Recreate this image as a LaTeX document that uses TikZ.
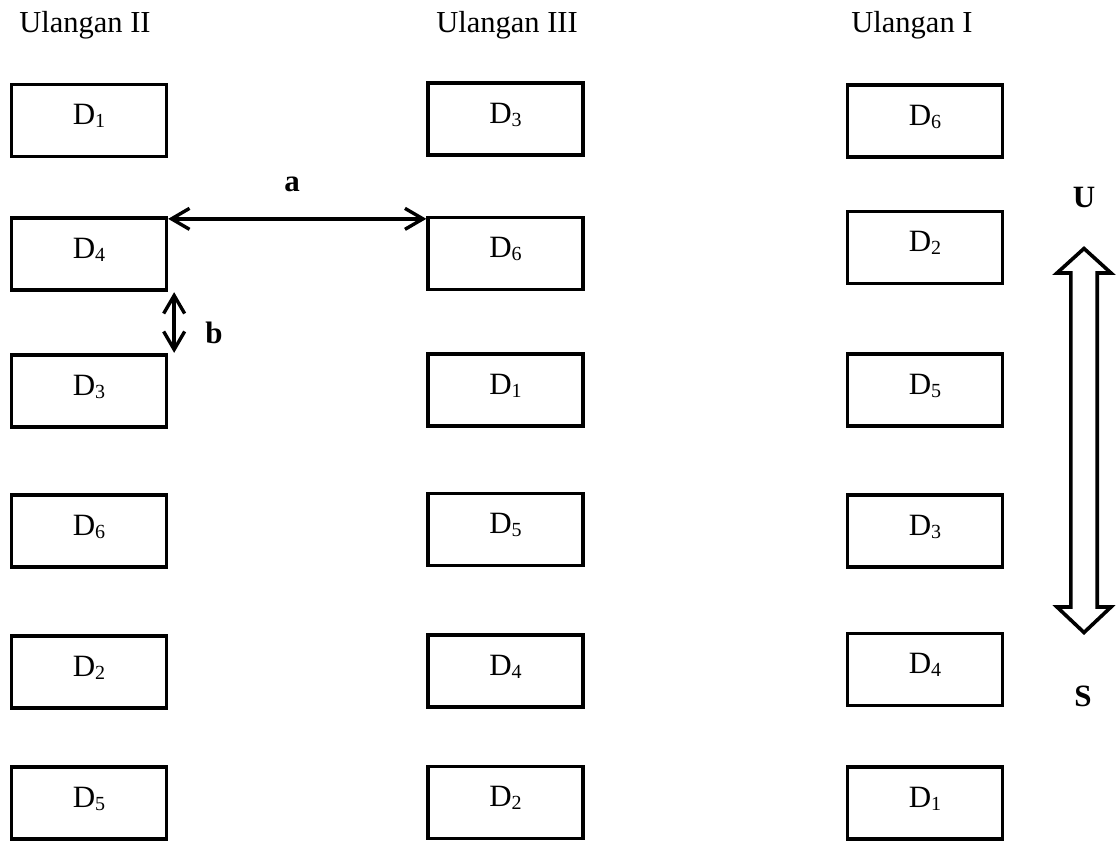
\documentclass[tikz,border=0pt]{standalone}
\usepackage{fontspec}
\setmainfont{Liberation Serif}
\usetikzlibrary{arrows.meta,calc}
\newcommand{\Dlab}[1]{D\raisebox{-3pt}{\fontsize{20}{20}\selectfont #1}}
\tikzset{
  plotbox/.style={draw, line width=3.3pt, minimum width=155pt, minimum height=72pt,
    inner sep=0pt, text height=20pt, text depth=12pt, font=\fontsize{31}{36}\selectfont},
  headtext/.style={anchor=base, inner sep=0pt, font=\fontsize{30.5}{36}\selectfont},
  labtext/.style={anchor=base, inner sep=0pt, font=\fontsize{31}{36}\selectfont\bfseries},
  dimarrow/.style={line width=3.4pt,
    {Straight Barb[length=18pt,width=21pt]}-{Straight Barb[length=18pt,width=21pt]}},
  bigarrow/.style={line width=3.6pt, miter limit=10}
}
\begin{document}
\begin{tikzpicture}[x=1pt,y=-1pt]
\useasboundingbox (0,0) rectangle (1117,841);
% headers
\node[headtext] (h1) at (85,32) {Ulangan II};
\node[headtext] (h2) at (507,32) {Ulangan III};
\node[headtext] (h3) at (912,32) {Ulangan I};
% column 1 (Ulangan II)
\node[plotbox] (c1r1) at (89,120.5) {\Dlab{1}};
\node[plotbox] (c1r2) at (89,254) {\Dlab{4}};
\node[plotbox] (c1r3) at (89,391) {\Dlab{3}};
\node[plotbox] (c1r4) at (89,531) {\Dlab{6}};
\node[plotbox] (c1r5) at (89,672) {\Dlab{2}};
\node[plotbox] (c1r6) at (89,803) {\Dlab{5}};
% column 2 (Ulangan III)
\node[plotbox] (c2r1) at (505.5,119) {\Dlab{3}};
\node[plotbox] (c2r2) at (505.5,253.5) {\Dlab{6}};
\node[plotbox] (c2r3) at (505.5,390) {\Dlab{1}};
\node[plotbox] (c2r4) at (505.5,529.5) {\Dlab{5}};
\node[plotbox] (c2r5) at (505.5,671) {\Dlab{4}};
\node[plotbox] (c2r6) at (505.5,802.5) {\Dlab{2}};
% column 3 (Ulangan I)
\node[plotbox] (c3r1) at (925,121) {\Dlab{6}};
\node[plotbox] (c3r2) at (925,247.5) {\Dlab{2}};
\node[plotbox] (c3r3) at (925,390) {\Dlab{5}};
\node[plotbox] (c3r4) at (925,531) {\Dlab{3}};
\node[plotbox] (c3r5) at (925,669.5) {\Dlab{4}};
\node[plotbox] (c3r6) at (925,803) {\Dlab{1}};
% distance arrows
\coordinate (aL) at ([yshift=-2.5pt]c1r2.north east);
\draw[dimarrow] (aL) -- (aL -| c2r2.west);
\node[labtext] (la) at (292,191) {a};
\draw[dimarrow, shorten <=0.5pt, shorten >=0.5pt] ([xshift=6pt]c1r2.south east) -- ([xshift=6pt]c1r3.north east);
\node[labtext] (lb) at (214,343) {b};
% north-south arrow
\node[labtext] (lu) at (1084,207) {U};
\node[labtext] (ls) at (1083,706) {S};
\draw[bigarrow] (1084,248.5) -- (1111,273) -- (1097.2,273) -- (1097.2,607) -- (1111,607)
  -- (1084,632.5) -- (1057,607) -- (1070.8,607) -- (1070.8,273) -- (1057,273) -- cycle;
\end{tikzpicture}
\end{document}
